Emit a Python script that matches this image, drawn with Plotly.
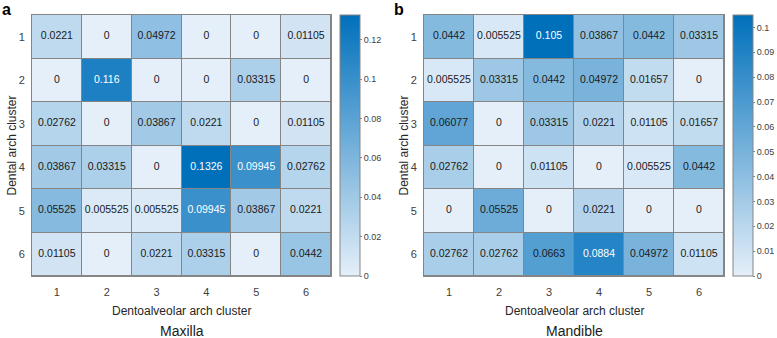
import plotly.graph_objects as go

# ---- data ----
clusters = [1, 2, 3, 4, 5, 6]
tick_labels = ["1", "2", "3", "4", "5", "6"]

maxilla = [
    [0.0221, 0, 0.04972, 0, 0, 0.01105],
    [0, 0.116, 0, 0, 0.03315, 0],
    [0.02762, 0, 0.03867, 0.0221, 0, 0.01105],
    [0.03867, 0.03315, 0, 0.1326, 0.09945, 0.02762],
    [0.05525, 0.005525, 0.005525, 0.09945, 0.03867, 0.0221],
    [0.01105, 0, 0.0221, 0.03315, 0, 0.0442],
]
mandible = [
    [0.0442, 0.005525, 0.105, 0.03867, 0.0442, 0.03315],
    [0.005525, 0.03315, 0.0442, 0.04972, 0.01657, 0],
    [0.06077, 0, 0.03315, 0.0221, 0.01105, 0.01657],
    [0.02762, 0, 0.01105, 0, 0.005525, 0.0442],
    [0, 0.05525, 0, 0.0221, 0, 0],
    [0.02762, 0.02762, 0.0663, 0.0884, 0.04972, 0.01105],
]
x_title = "Dentoalveolar arch cluster"
y_title = "Dental arch cluster"
panel_titles = ["Maxilla", "Mandible"]
panel_letters = ["a", "b"]

# ---- layout helpers ----
W, H = 777, 338
FONT = "Liberation Sans, Arial, Helvetica, sans-serif"
def px(x):
    return x / W
def py(y):
    return 1 - y / H

colorscale = [[0, "#e5eff9"], [1, "#0070bb"]]
grid_col = "#858585"

panels = [
    dict(data=maxilla, x0=32, x1=331, cb=340, dtick=0.02, ax="", ca="coloraxis"),
    dict(data=mandible, x0=424, x1=724, cb=733, dtick=0.01, ax="2", ca="coloraxis2"),
]
top, bottom = 15, 276

fig = go.Figure()
layout = dict(
    width=W, height=H, margin=dict(l=0, r=0, t=0, b=0, autoexpand=False),
    paper_bgcolor="white", plot_bgcolor=grid_col,
    font=dict(family=FONT, color="#262626"),
    showlegend=False,
)
annotations = []

for i, p in enumerate(panels):
    z = p["data"]
    zmax = max(max(r) for r in z)
    xa = "x" + p["ax"]
    ya = "y" + p["ax"]
    fig.add_trace(go.Heatmap(
        z=z, x=clusters, y=clusters, coloraxis=p["ca"],
        xgap=1, ygap=1, xaxis=xa, yaxis=ya, hoverinfo="skip",
    ))
    xs, ys, txt, cols = [], [], [], []
    for r, row in enumerate(z):
        for c, v in enumerate(row):
            xs.append(clusters[c])
            ys.append(clusters[r])
            txt.append("{:.4g}".format(v))
            cols.append("white" if v / zmax > 0.7 else "#1a1a1a")
    fig.add_trace(go.Scatter(
        x=xs, y=ys, text=txt, mode="text", xaxis=xa, yaxis=ya,
        textfont=dict(family=FONT, size=10.5, color=cols), hoverinfo="skip",
    ))
    layout["xaxis" + p["ax"]] = dict(
        domain=[px(p["x0"]), px(p["x1"])], anchor=ya,
        range=[0.5, 6.5], tickvals=clusters, ticktext=tick_labels,
        showgrid=False, zeroline=False, showline=True, mirror=True,
        linecolor=grid_col, linewidth=1, ticks="", ticklabelstandoff=6,
        tickfont=dict(size=11, color="#404040"),
    )
    layout["yaxis" + p["ax"]] = dict(
        domain=[py(bottom), py(top)], anchor=xa,
        range=[6.5, 0.5], tickvals=clusters, ticktext=tick_labels,
        showgrid=False, zeroline=False, showline=True, mirror=True,
        linecolor=grid_col, linewidth=1, ticks="", ticklabelstandoff=4,
        tickfont=dict(size=11, color="#404040"),
    )
    layout[p["ca"]] = dict(
        colorscale=colorscale, cmin=0, cmax=zmax,
        colorbar=dict(
            x=px(p["cb"]), xanchor="left", xpad=0, ypad=0,
            y=py(top), yanchor="top", len=bottom - top, lenmode="pixels",
            thickness=20, thicknessmode="pixels",
            outlinewidth=1, outlinecolor=grid_col,
            tick0=0, dtick=p["dtick"], ticks="outside", ticklen=2,
            tickcolor=grid_col, tickfont=dict(size=9, color="#404040"),
        ),
    )
    cx = px((p["x0"] + p["x1"]) / 2)
    annotations.append(dict(text=x_title, x=cx, y=py(311), xref="paper", yref="paper",
                            xanchor="center", yanchor="middle",
                            showarrow=False, font=dict(size=12, color="#262626")))
    annotations.append(dict(text=panel_titles[i], x=cx, y=py(331), xref="paper", yref="paper",
                            xanchor="center", yanchor="middle",
                            showarrow=False, font=dict(size=14, color="#1a1a1a")))
    annotations.append(dict(text=y_title, x=px(p["x0"] - 20), y=py((top + bottom) / 2),
                            xref="paper", yref="paper", textangle=-90,
                            xanchor="center", yanchor="middle",
                            showarrow=False, font=dict(size=12, color="#262626")))
    annotations.append(dict(text="<b>" + panel_letters[i] + "</b>",
                            x=px(p["x0"] - 32), y=py(9), xref="paper", yref="paper",
                            xanchor="left", yanchor="middle", showarrow=False,
                            font=dict(size=16, color="black")))

layout["annotations"] = annotations
fig.update_layout(**layout)
fig.write_html(
    "out.html",
    config={"displayModeBar": False},
    post_script="document.body.style.margin='0';document.body.style.overflow='hidden';",
)
